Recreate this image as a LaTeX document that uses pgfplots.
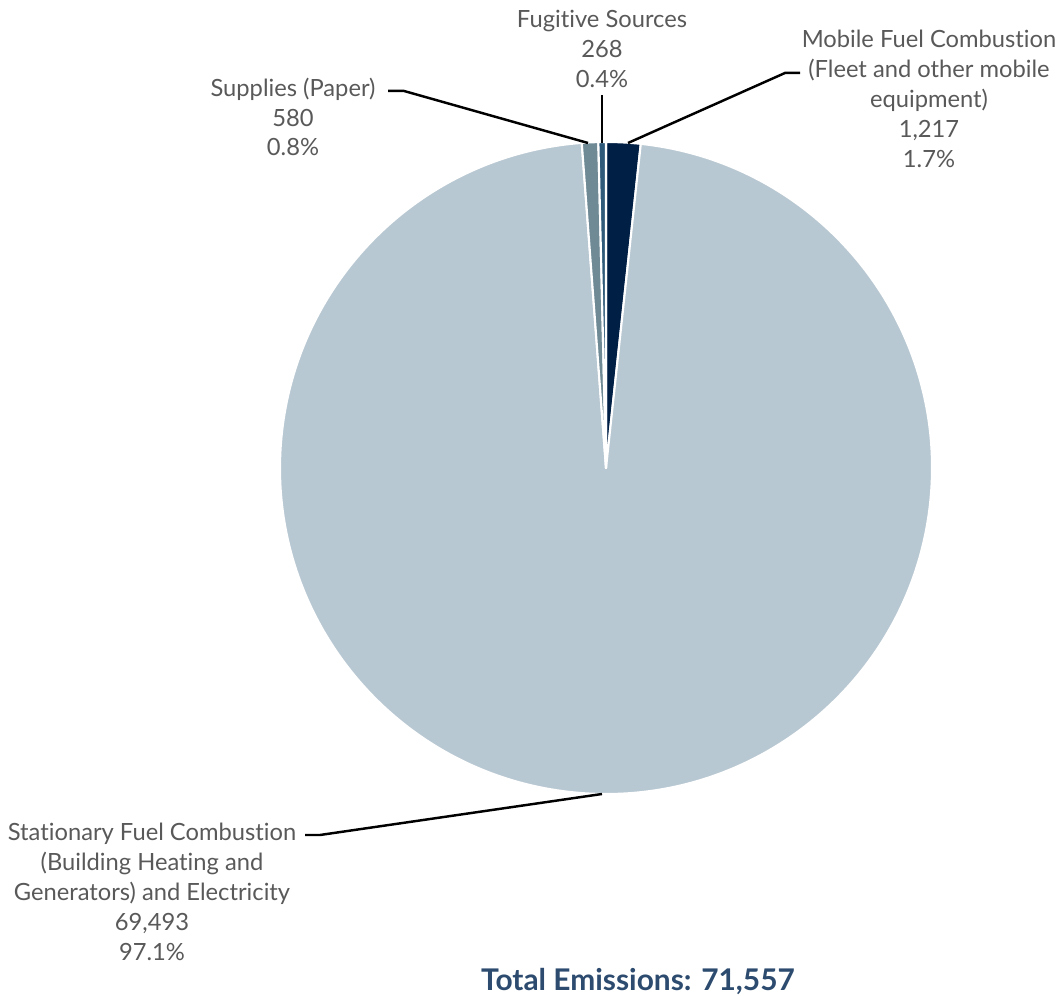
\documentclass[border=0pt]{standalone}
\usepackage{pgfplots}
\pgfplotsset{compat=1.18}
\usepackage{fontspec}
\setmainfont{Lato}[RawFeature=-liga]
\definecolor{cStat}{HTML}{B8C8D2}
\definecolor{cMob}{HTML}{001F45}
\definecolor{cSup}{HTML}{6F8A95}
\definecolor{cFug}{HTML}{2F5A7A}
\definecolor{cLbl}{HTML}{595959}
\definecolor{cTot}{HTML}{2C4B6E}

% emissions by source
\def\vMob{1217}
\def\vStat{69493}
\def\vSup{580}
\def\vFug{268}
\def\vTot{71558}

\begin{document}
\begin{tikzpicture}
\begin{axis}[
    scale only axis,
    width=21.2cm, height=19.9cm,
    xmin=0, xmax=1060, ymin=0, ymax=995,
    hide axis, clip=false,
]
\edef\aA{90}
\edef\aB{\fpeval{round(\aA-360*\vMob/\vTot,4)}}
\edef\aC{\fpeval{round(\aB-360*\vStat/\vTot,4)}}
\edef\aD{\fpeval{round(\aC-360*\vSup/\vTot,4)}}
\edef\aE{\fpeval{round(\aD-360*\vFug/\vTot,4)}}
\def\R{6.52cm}
\begin{scope}[draw=white, line width=1.2pt, line join=round]
\filldraw[fill=cMob] (axis cs:606,527) -- ++(\aA:\R) arc[start angle=\aA, end angle=\aB, radius=\R] -- cycle;
\filldraw[fill=cStat] (axis cs:606,527) -- ++(\aB:\R) arc[start angle=\aB, end angle=\aC, radius=\R] -- cycle;
\filldraw[fill=cSup] (axis cs:606,527) -- ++(\aC:\R) arc[start angle=\aC, end angle=\aD, radius=\R] -- cycle;
\filldraw[fill=cFug] (axis cs:606,527) -- ++(\aD:\R) arc[start angle=\aD, end angle=\aE, radius=\R] -- cycle;
\end{scope}

% leader lines
\draw[black, line width=1.4pt] (axis cs:388,904) -- (axis cs:404,904) -- (axis cs:588,852);
\draw[black, line width=1.4pt] (axis cs:602,900) -- (axis cs:602,852);
\draw[black, line width=1.4pt] (axis cs:800,922) -- (axis cs:785,922) -- (axis cs:628,852);
\draw[black, line width=1.4pt] (axis cs:305,160) -- (axis cs:320,160) -- (axis cs:602,201);

\begin{scope}[every node/.style={align=center, text=cLbl, font=\fontsize{13.5}{17}\selectfont}]
\node at (axis cs:293,878) {Supplies (Paper)\\580\\0.8\%};
\node at (axis cs:602,946) {Fugitive Sources\\268\\0.4\%};
\node at (axis cs:929,896) {Mobile Fuel Combustion\\(Fleet and other mobile\\equipment)\\1,217\\1.7\%};
\node at (axis cs:152,103) {Stationary Fuel Combustion\\(Building Heating and\\Generators) and Electricity\\69,493\\97.1\%};
\end{scope}
\node[text=cTot, font=\fontsize{17}{20}\selectfont\bfseries] at (axis cs:638,13) {Total Emissions: 71,557};
\end{axis}
\pgfresetboundingbox
\path (0,0) rectangle (21.2cm,19.9cm);
\end{tikzpicture}
\end{document}
